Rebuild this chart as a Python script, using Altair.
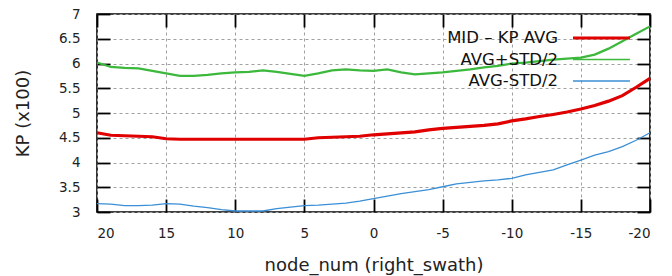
import altair as alt
import pandas as pd

nodes = list(range(20, -21, -1))

mid_kp_avg = [4.60, 4.55, 4.54, 4.53, 4.52, 4.48, 4.47, 4.47, 4.47, 4.47, 4.47,
              4.47, 4.47, 4.47, 4.47, 4.47, 4.50, 4.51, 4.52, 4.53, 4.56,
              4.58, 4.60, 4.62, 4.66, 4.69, 4.71, 4.73, 4.75, 4.78, 4.84,
              4.88, 4.93, 4.97, 5.02, 5.08, 5.15, 5.24, 5.35, 5.52, 5.70]

avg_plus_std2 = [6.02, 5.93, 5.91, 5.90, 5.85, 5.80, 5.75, 5.75, 5.77, 5.80, 5.82,
                 5.83, 5.86, 5.83, 5.79, 5.75, 5.80, 5.86, 5.88, 5.86, 5.85,
                 5.88, 5.82, 5.78, 5.80, 5.82, 5.85, 5.88, 5.92, 5.95, 6.00,
                 6.02, 6.05, 6.08, 6.10, 6.12, 6.18, 6.30, 6.45, 6.60, 6.75]

avg_minus_std2 = [3.17, 3.16, 3.13, 3.13, 3.14, 3.17, 3.16, 3.12, 3.09, 3.05, 3.02,
                  3.02, 3.02, 3.07, 3.10, 3.13, 3.14, 3.16, 3.18, 3.22, 3.27,
                  3.32, 3.37, 3.41, 3.45, 3.51, 3.57, 3.60, 3.63, 3.65, 3.68,
                  3.75, 3.80, 3.85, 3.95, 4.05, 4.15, 4.22, 4.32, 4.45, 4.60]

series_names = ["MID – KP AVG", "AVG+STD/2", "AVG-STD/2"]
series_colors = ["#e00000", "#3cb83c", "#3a8fd6"]
series_widths = [3.2, 1.3, 1.3]

x_ticks = [20, 15, 10, 5, 0, -5, -10, -15, -20]
y_ticks = [3, 3.5, 4, 4.5, 5, 5.5, 6, 6.5, 7]

W, H = 553, 198
FONT = "DejaVu Sans"
INWARD = {"expr": "-13"}

rows = []
for name, vals in zip(series_names, [mid_kp_avg, avg_plus_std2, avg_minus_std2]):
    for n, v in zip(nodes, vals):
        rows.append({"node": n, "kp": v, "series": name})
df = pd.DataFrame(rows)

xscale = alt.Scale(domain=[-20, 20], reverse=True, nice=False, zero=False)
yscale = alt.Scale(domain=[3, 7], nice=False, zero=False)

xaxis = alt.Axis(orient="bottom", values=x_ticks, title="node_num (right_swath)",
                 labelExpr="'' + datum.value", labelPadding=27, titleY=53, titleBaseline="middle")
yaxis = alt.Axis(orient="left", values=y_ticks, title="KP (x100)", labelExpr="'' + datum.value",
                 labelPadding=30, titleX=-74, titleY=H / 2, titleAngle=270,
                 titleAlign="center", titleBaseline="middle")

lines = alt.Chart(df).mark_line().encode(
    x=alt.X("node:Q", scale=xscale, axis=xaxis),
    y=alt.Y("kp:Q", scale=yscale, axis=yaxis),
    color=alt.Color("series:N", scale=alt.Scale(domain=series_names, range=series_colors), legend=None),
    strokeWidth=alt.StrokeWidth("series:N", scale=alt.Scale(domain=series_names, range=series_widths), legend=None),
    order=alt.Order("node:Q"),
)

# mirror axes (ticks only) on the top and right edges
ytick_df = pd.DataFrame({"v": y_ticks})
xtick_df = pd.DataFrame({"v": x_ticks})
yright = alt.Chart(ytick_df).mark_point(opacity=0).encode(
    y=alt.Y("v:Q", scale=yscale,
            axis=alt.Axis(orient="right", values=y_ticks, labels=False, grid=False, title="")),
    x=alt.value(0))
xtop = alt.Chart(xtick_df).mark_point(opacity=0).encode(
    x=alt.X("v:Q", scale=xscale,
            axis=alt.Axis(orient="top", values=x_ticks, labels=False, grid=False, title="")),
    y=alt.value(0))

legend_layers = []
for i, (name, col, w) in enumerate(zip(series_names, series_colors, series_widths)):
    yy = 24 + i * 21.5
    legend_layers.append(
        alt.Chart(pd.DataFrame({"label": [name]})).mark_text(
            align="right", baseline="middle", fontSize=16.5, font=FONT, color="#111"
        ).encode(text="label:N", x=alt.value(461), y=alt.value(yy))
    )
    legend_layers.append(
        alt.Chart(pd.DataFrame({"label": [name]})).mark_rule(color=col, strokeWidth=w).encode(
            x=alt.value(476), x2=alt.value(533), y=alt.value(yy))
    )

chart = alt.layer(lines, yright, xtop, *legend_layers).resolve_axis(
    x="independent", y="independent"
).properties(
    width=W, height=H,
    autosize=alt.AutoSizeParams(type="none"),
    padding={"left": 89, "top": 6, "right": 14, "bottom": 64},
    background="white",
).configure_view(
    stroke="black", strokeWidth=1.6
).configure_axis(
    grid=True, gridDash=[3, 3], gridColor="#a0a0a0", gridWidth=1,
    domain=False, ticks=True, tickSize=INWARD, tickColor="black", tickWidth=1.8,
    labelFont=FONT, labelFontSize=13.5, labelColor="#222",
    titleFont=FONT, titleFontSize=18, titleFontWeight="normal", titleColor="#222",
)

chart.save("out.html", embed_options={"renderer": "svg", "actions": False})
